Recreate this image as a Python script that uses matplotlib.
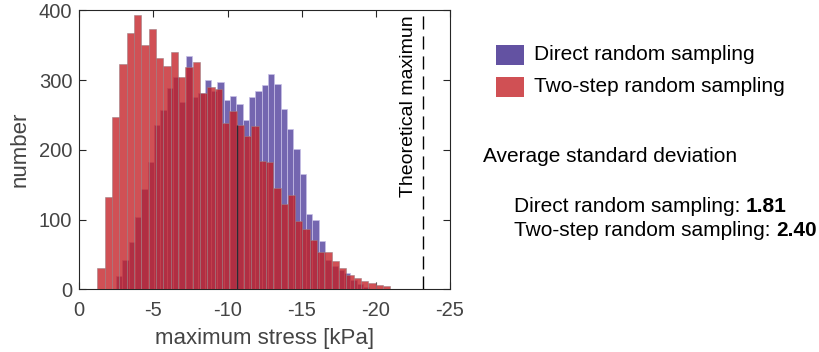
import numpy as np
import matplotlib
matplotlib.use("Agg")
import matplotlib.pyplot as plt
from matplotlib.patches import Rectangle

plt.rcParams['font.family'] = ['Liberation Sans', 'DejaVu Sans']
plt.rcParams['axes.unicode_minus'] = False

# ---- data ----
# Two-step random sampling histogram (bins start at -1.22 kPa, going more negative)
two_step_start = 1.22
two_step_width = 0.494
two_step_counts = [31, 132, 247, 323, 367, 393, 350, 373, 332, 320,
                   340, 304, 319, 326, 281, 290, 287, 238, 256, 235,
                   220, 234, 184, 183, 145, 123, 135, 98, 87, 70,
                   53, 53, 41, 30, 20, 16, 12, 9, 6, 5]
# Direct random sampling histogram
direct_start = 2.475
direct_width = 0.427
direct_counts = [19, 42, 68, 104, 144, 182, 236, 257, 289, 305,
                 269, 335, 275, 281, 300, 285, 297, 272, 277, 266,
                 243, 276, 284, 293, 309, 294, 258, 230, 201, 165,
                 108, 99, 69, 42, 34, 28, 24, 14, 8, 4]
theoretical_max = -23.2
x_ticks = [0, -5, -10, -15, -20, -25]
y_ticks = [0, 100, 200, 300, 400]
legend_labels = ['Direct random sampling', 'Two-step random sampling']
std_direct = '1.81'
std_two_step = '2.40'

BLUE = '#7466B0'
RED = '#C31F25'
W, H = 820, 352

fig = plt.figure(figsize=(W / 100, H / 100), dpi=100)
ax = fig.add_axes([79.3 / W, 1 - 289.3 / H, 370.7 / W, 279 / H])

n_d = len(direct_counts)
d_centers = -(direct_start + (np.arange(n_d) + 0.5) * direct_width)
ax.bar(d_centers, direct_counts, width=direct_width, color=BLUE,
       edgecolor=(0.78, 0.75, 0.90), linewidth=0.5, zorder=2)

n_t = len(two_step_counts)
t_centers = -(two_step_start + (np.arange(n_t) + 0.5) * two_step_width)
ax.bar(t_centers, two_step_counts, width=two_step_width, color=RED, alpha=0.78,
       edgecolor=(0.62, 0.50, 0.52), linewidth=0.5, zorder=3)

# dark edge artefact on one bin
k = 19
ax.vlines(-(two_step_start + k * two_step_width), 0, two_step_counts[k],
          color='#2a2a35', lw=1.0, zorder=4)

ax.axvline(theoretical_max, color='black', lw=1.0, ls=(0, (9.4, 5)), zorder=4)
ax.text(-22.2, 132.3, 'Theoretical maximun', rotation=90, ha='center',
        va='bottom', fontsize=14, color='black')

ax.set_xlim(0, -25)
ax.set_ylim(0, 400)
ax.set_xticks(x_ticks)
ax.set_yticks(y_ticks)
ax.tick_params(direction='in', length=5, width=0.8, top=True, right=True,
               labelsize=14.5, colors='#262626', labelcolor='#444444')
ax.tick_params(axis='x', pad=8.5)
ax.tick_params(axis='y', pad=5)
for s in ax.spines.values():
    s.set_color('#262626')
    s.set_linewidth(0.8)
ax.set_xlabel('maximum stress [kPa]', fontsize=16, color='#444444', labelpad=5.5)
ax.set_ylabel('number', fontsize=16, color='#444444', labelpad=6)

# legend (manual)
def fx(px):
    return px / W

def fy(py):
    return 1 - py / H

fig.add_artist(Rectangle((fx(496), fy(65)), 28 / W, 20 / H, transform=fig.transFigure,
                         facecolor='#6352A2', edgecolor='none'))
fig.add_artist(Rectangle((fx(496), fy(97)), 28 / W, 20 / H, transform=fig.transFigure,
                         facecolor='#D05054', edgecolor='none'))
fig.text(fx(534), fy(55), legend_labels[0], fontsize=15, va='center', ha='left')
fig.text(fx(534), fy(87), legend_labels[1], fontsize=15, va='center', ha='left')

fig.text(fx(482.7), fy(156.7), 'Average standard deviation', fontsize=15,
         va='center', ha='left')
t1 = fig.text(fx(514), fy(206), legend_labels[0] + ': ', fontsize=15,
              va='center', ha='left')
t2 = fig.text(fx(514), fy(230), legend_labels[1] + ': ', fontsize=15,
              va='center', ha='left')
fig.canvas.draw()
r = fig.canvas.get_renderer()
for t, val, y in [(t1, std_direct, 206), (t2, std_two_step, 230)]:
    bb = t.get_window_extent(r)
    fig.text(bb.x1 / W, fy(y), val, fontsize=15, fontweight='bold',
             va='center', ha='left')

fig.savefig('out.png', dpi=100)
